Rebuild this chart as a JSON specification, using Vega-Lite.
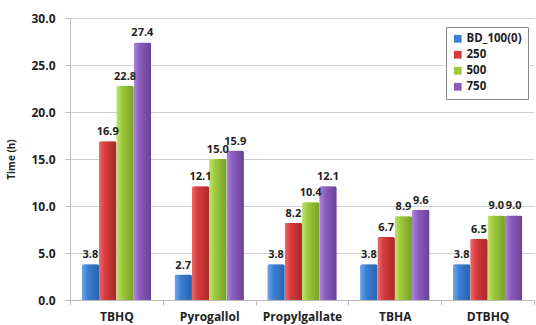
{
  "$schema": "https://vega.github.io/schema/vega-lite/v6.json",
  "width": 464,
  "height": 282,
  "autosize": {"type": "none"},
  "padding": {"left": 70, "top": 18, "right": 2, "bottom": 25},
  "background": "white",
  "config": {"view": {"stroke": null}, "font": "Open Sans"},
  "data": {"values": [
    {"c": "TBHQ", "s": "BD_100(0)", "v": 3.8},
    {"c": "TBHQ", "s": "250", "v": 16.9},
    {"c": "TBHQ", "s": "500", "v": 22.8},
    {"c": "TBHQ", "s": "750", "v": 27.4},
    {"c": "Pyrogallol", "s": "BD_100(0)", "v": 2.7},
    {"c": "Pyrogallol", "s": "250", "v": 12.1},
    {"c": "Pyrogallol", "s": "500", "v": 15.0},
    {"c": "Pyrogallol", "s": "750", "v": 15.9},
    {"c": "Propylgallate", "s": "BD_100(0)", "v": 3.8},
    {"c": "Propylgallate", "s": "250", "v": 8.2},
    {"c": "Propylgallate", "s": "500", "v": 10.4},
    {"c": "Propylgallate", "s": "750", "v": 12.1},
    {"c": "TBHA", "s": "BD_100(0)", "v": 3.8},
    {"c": "TBHA", "s": "250", "v": 6.7},
    {"c": "TBHA", "s": "500", "v": 8.9},
    {"c": "TBHA", "s": "750", "v": 9.6},
    {"c": "DTBHQ", "s": "BD_100(0)", "v": 3.8},
    {"c": "DTBHQ", "s": "250", "v": 6.5},
    {"c": "DTBHQ", "s": "500", "v": 9.0},
    {"c": "DTBHQ", "s": "750", "v": 9.0}
  ]},
  "encoding": {
    "x": {"field": "c", "type": "nominal", "sort": null,
      "scale": {"paddingInner": 0, "paddingOuter": 0},
      "axis": {"title": null, "labelAngle": 0, "labelFont": "Open Sans", "labelFontWeight": "bold", "labelFontSize": 12, "labelColor": "#222", "labelPadding": 6, "tickBand": "extent", "domainColor": "#bbb", "tickColor": "#bbb", "tickSize": 5}},
    "xOffset": {"field": "s", "type": "nominal", "sort": ["BD_100(0)", "250", "500", "750"],
      "scale": {"domain": ["BD_100(0)", "250", "500", "750"], "paddingInner": 0, "paddingOuter": 0.68}},
    "y": {"field": "v", "type": "quantitative",
      "scale": {"domain": [0, 30]},
      "axis": {"title": "Time (h)", "titleFont": "Open Sans", "titleFontWeight": "bold", "titleFontSize": 10, "titleColor": "#222", "titlePadding": 14, "values": [0, 5, 10, 15, 20, 25, 30], "format": ".1f", "labelFont": "Open Sans", "labelFontWeight": "bold", "labelFontSize": 12, "labelColor": "#222", "labelPadding": 10, "gridColor": "#d0d0d0", "domainColor": "#bbb", "tickColor": "#bbb", "tickSize": 5}}
  },
  "layer": [
    {
      "mark": {"type": "bar", "cornerRadiusTopLeft": 2, "cornerRadiusTopRight": 2},
      "encoding": {
        "color": {"field": "s", "type": "nominal", "sort": ["BD_100(0)", "250", "500", "750"],
          "scale": {"domain": ["BD_100(0)", "250", "500", "750"], "range": ["#3b7fd3", "#d63a3b", "#9cc83a", "#8a5cbf"]},
          "legend": {"title": null, "orient": "none", "legendX": 376, "legendY": 9, "strokeColor": "#888", "padding": 6, "fillColor": "white", "symbolType": "square", "symbolSize": 60, "symbolStrokeWidth": 0, "labelFont": "Open Sans", "labelFontWeight": "bold", "labelFontSize": 11.5, "labelColor": "#222", "rowPadding": 3, "labelOffset": 3}}
      }
    },
    {
      "transform": [{"filter": "datum.s === 'BD_100(0)'"}],
      "mark": {"type": "bar", "cornerRadiusTopLeft": 2, "cornerRadiusTopRight": 2,
        "color": {"gradient": "linear", "x1": 0, "x2": 1, "y1": 0, "y2": 0, "stops": [{"offset": 0, "color": "#6fa8ec"}, {"offset": 0.35, "color": "#3b7fd3"}, {"offset": 1, "color": "#2a62ad"}]}}
    },
    {
      "transform": [{"filter": "datum.s === '250'"}],
      "mark": {"type": "bar", "cornerRadiusTopLeft": 2, "cornerRadiusTopRight": 2,
        "color": {"gradient": "linear", "x1": 0, "x2": 1, "y1": 0, "y2": 0, "stops": [{"offset": 0, "color": "#ee6b6b"}, {"offset": 0.35, "color": "#d63a3b"}, {"offset": 1, "color": "#a8292a"}]}}
    },
    {
      "transform": [{"filter": "datum.s === '500'"}],
      "mark": {"type": "bar", "cornerRadiusTopLeft": 2, "cornerRadiusTopRight": 2,
        "color": {"gradient": "linear", "x1": 0, "x2": 1, "y1": 0, "y2": 0, "stops": [{"offset": 0, "color": "#c0e46a"}, {"offset": 0.35, "color": "#9cc83a"}, {"offset": 1, "color": "#76a02a"}]}}
    },
    {
      "transform": [{"filter": "datum.s === '750'"}],
      "mark": {"type": "bar", "cornerRadiusTopLeft": 2, "cornerRadiusTopRight": 2,
        "color": {"gradient": "linear", "x1": 0, "x2": 1, "y1": 0, "y2": 0, "stops": [{"offset": 0, "color": "#ad86dc"}, {"offset": 0.35, "color": "#8a5cbf"}, {"offset": 1, "color": "#6a4298"}]}}
    },
    {
      "mark": {"type": "text", "dy": -9, "font": "Open Sans", "fontWeight": "bold", "fontSize": 11, "color": "#222"},
      "encoding": {"text": {"field": "v", "type": "quantitative", "format": ".1f"}}
    }
  ]
}
